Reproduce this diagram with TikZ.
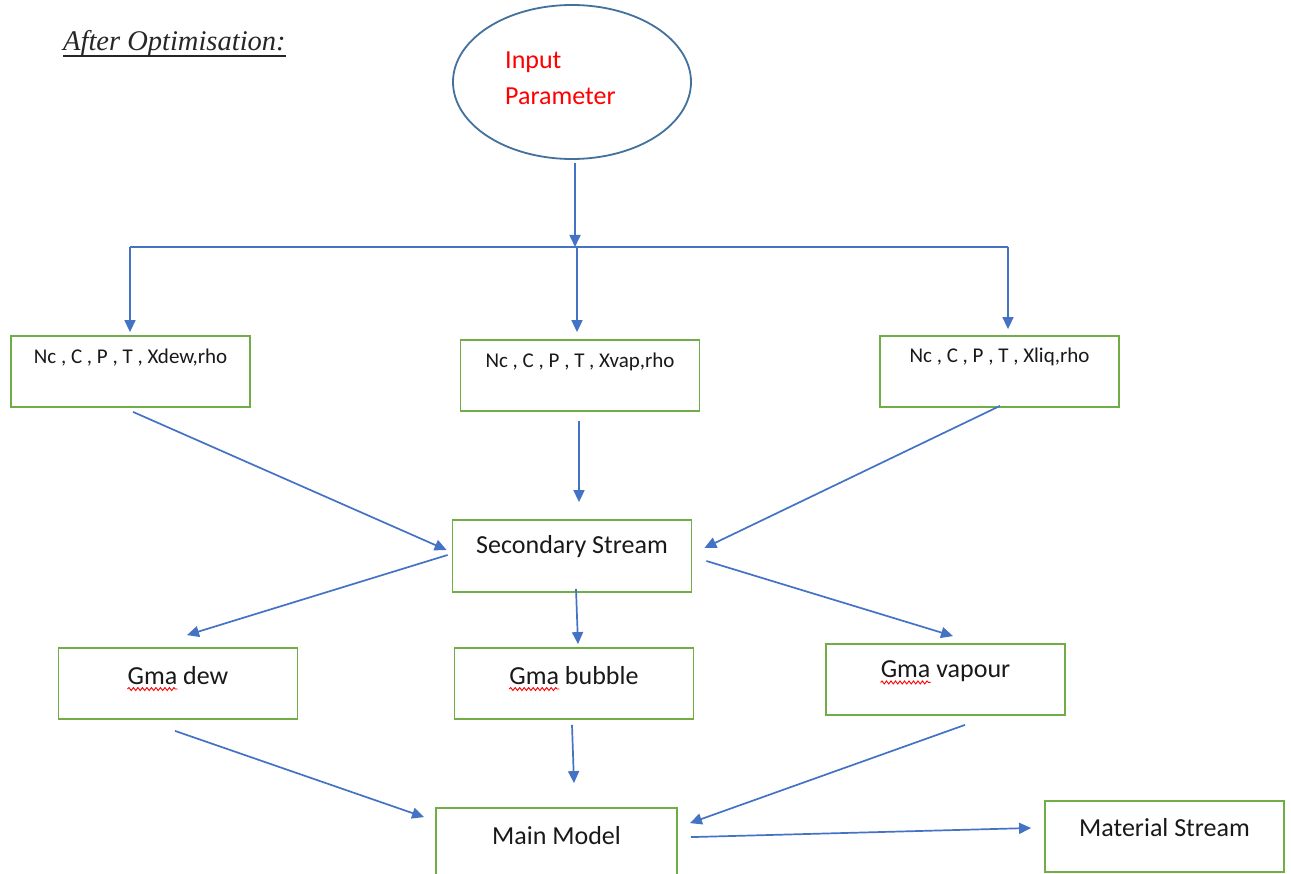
\documentclass[tikz,border=0pt]{standalone}
\usepackage{fontspec}
\setmainfont{Carlito}
\newfontfamily\titlefont{Liberation Serif}
\usetikzlibrary{arrows.meta,calc,shapes.geometric,decorations.pathmorphing}
\definecolor{flowblue}{HTML}{4472C4}
\definecolor{boxgreen}{HTML}{70AD47}
\definecolor{ringblue}{HTML}{41719C}
\begin{document}
\begin{tikzpicture}[x=1pt,y=-1pt,
  box/.style={draw=boxgreen,line width=1.8pt,minimum width=239pt,minimum height=71pt,inner sep=0pt},
  flow/.style={draw=flowblue,line width=1.7pt,-{Triangle[length=12pt,width=11pt]}},
  busline/.style={draw=flowblue,line width=1.7pt},
  big/.style={font=\fontsize{26}{31}\selectfont,inner sep=0pt,text=black!90},
  small/.style={font=\fontsize{21}{25}\selectfont,inner sep=0pt,text=black!90},
  squig/.style={draw=red,line width=0.9pt,decorate,decoration={snake,amplitude=1.5pt,segment length=4.5pt}}]

\clip (0,0) rectangle (1291,874);
\fill[white] (0,0) rectangle (1291,874);

% heading
\node[font=\titlefont\itshape\fontsize{28.5}{34}\selectfont,text=black!85,inner sep=0pt,anchor=base west] (ttl) at (63,51) {After Optimisation:};
\draw[line width=1.8pt,black!85] ($(ttl.base west)+(0,5)$) -- ($(ttl.base east)+(0,5)$);

% input ellipse
\node[ellipse,draw=ringblue,line width=1.8pt,minimum width=238pt,minimum height=154pt] (ip) at (572,82) {};
\node[inner sep=0pt,text=red,align=left,anchor=west,font=\fontsize{26}{36}\selectfont] (iptxt) at (505,78) {Input\\Parameter};

% distribution bus
\coordinate (busL) at (130,247);
\coordinate (busR) at (1008,247);
\coordinate (busM) at (575,247);
\coordinate (busC) at (577,247);

% parameter boxes
\node[box] (b1) at (130.5,371.5) {};
\node[box] (b2) at (580,375.5) {};
\node[box] (b3) at (999.5,371.5) {};
\node[small] at ($(b1.north)+(0,22)$) {Nc , C , P , T , Xdew,rho};
\node[small] at ($(b2.north)+(0,23)$) {Nc , C , P , T , Xvap,rho};
\node[small] at ($(b3.north)+(0,22)$) {Nc , C , P , T , Xliq,rho};

% secondary stream
\node[box,minimum height=72pt] (ss) at (572,556) {};
\node[big] at ($(ss.north)+(0,27)$) {Secondary Stream};

% gamma boxes
\node[box] (dew) at (178,683.5) {};
\node[box] (bub) at (574,683.5) {};
\node[box] (vap) at (945.5,679.5) {};
\node[big] (tdew) at ($(dew.north)+(0,28)$) {Gma dew};
\node[big] (tbub) at ($(bub.north)+(0,28)$) {Gma bubble};
\node[big] (tvap) at ($(vap.north)+(0,28)$) {Gma vapour};
\draw[squig] ($(tdew.base west)+(0,5)$) -- ++(50,0);
\draw[squig] ($(tbub.base west)+(0,5)$) -- ++(50,0);
\draw[squig] ($(tvap.base west)+(0,5)$) -- ++(50,0);

% model and output
\node[box,minimum width=241pt,minimum height=72pt] (main) at (556.5,844) {};
\node[big] at ($(main.north)+(0,28)$) {Main Model};
\node[box] (mat) at (1164.5,836.5) {};
\node[big] at ($(mat.north)+(0,27)$) {Material Stream};

% connectors
\draw[flow] ($(ip.south)+(3,3)$) -- (busM);
\draw[busline] (busL) -- (busR);
\draw[flow] (busL) -- ($(busL |- b1.north)+(0,-3)$);
\draw[flow] (busC) -- ($(busC |- b2.north)+(0,-7)$);
\draw[flow] (busR) -- ($(busR |- b3.north)+(0,-6)$);

\draw[flow] ($(b1.south)+(2.5,4)$) -- ($(ss.west)+(-5,-6)$);
\draw[flow] ($(b2.south)+(-1,9)$) -- ($(ss.north)+(7,-17)$);
\draw[flow] ($(b3.south)+(0.5,-2)$) -- ($(ss.east)+(12,-8)$);

\draw[flow] ($(ss.west)+(-4,-1)$) -- ($(dew.north)+(9,-12)$);
\draw[flow] ($(ss.south)+(4,-4)$) -- ($(bub.north)+(4,-3)$);
\draw[flow] ($(ss.east)+(14,5)$) -- ($(vap.north)+(7.5,-7)$);

\draw[flow] ($(dew.south)+(-3,11)$) -- ($(main.north west)+(-11,10)$);
\draw[flow] ($(bub.south)+(-2,5)$) -- ($(main.north)+(17.5,-24)$);
\draw[flow] ($(vap.south)+(19.5,9)$) -- ($(main.north east)+(12,16)$);
\draw[flow] ($(main.north east)+(13,30)$) -- ($(mat.west)+(-13,-8.5)$);
\end{tikzpicture}
\end{document}
